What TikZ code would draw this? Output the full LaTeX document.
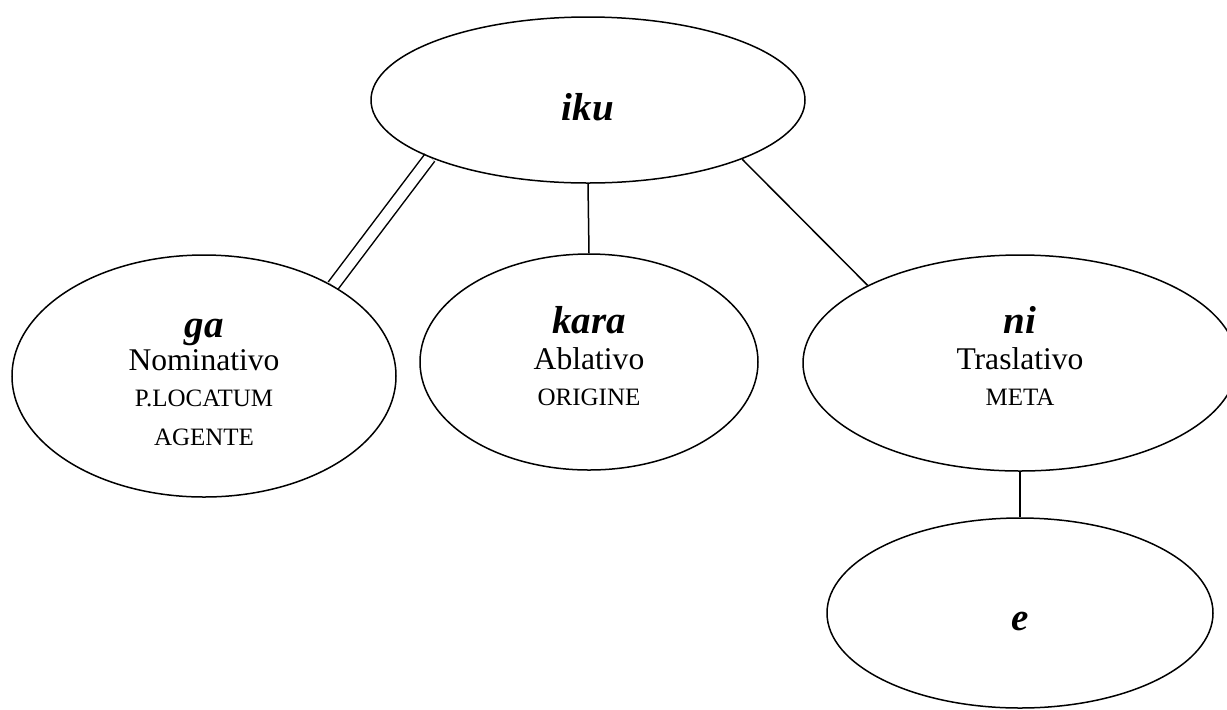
\documentclass[tikz,border=0pt]{standalone}
\usepackage{fontspec}
\setmainfont{Liberation Serif}
\usetikzlibrary{shapes.geometric, backgrounds}

\newcommand{\particella}[1]{{\fontsize{19.5}{19}\selectfont\bfseries\itshape #1}}
\newcommand{\ruolo}[1]{{\fontsize{12.5}{18}\selectfont #1}}

\begin{document}
\begin{tikzpicture}[x=0.5pt, y=-0.5pt,
		caso/.style={draw, ellipse, line width=0.75pt, inner sep=0pt, align=center,
			text depth=0pt, font=\fontsize{15.8}{18}\selectfont},
		legame/.style={line width=0.75pt}]
		\useasboundingbox (0,0) rectangle (1227,709);
		% verbo e particelle
		\node[caso, minimum width=217pt, minimum height=83pt, text height=20pt] (iku) at (588,100)
			{\particella{iku}};
		\node[caso, minimum width=192pt, minimum height=121pt, text height=69pt] (ga) at (204,376)
			{\particella{ga}\\[-1.5pt] Nominativo\\ \ruolo{P.LOCATUM}\\[1.5pt] \ruolo{AGENTE}};
		\node[caso, minimum width=169pt, minimum height=108pt, text height=43pt] (kara) at (589,362)
			{\particella{kara}\\ Ablativo\\ \ruolo{ORIGINE}};
		\node[caso, minimum width=217pt, minimum height=108pt, text height=42pt] (ni) at (1020,363)
			{\particella{ni}\\ Traslativo\\ \ruolo{META}};
		\node[caso, minimum width=193pt, minimum height=95pt, text height=17pt] (e) at (1020,613)
			{\particella{e}};
		% legami
		\begin{scope}[on background layer]
			\draw[legame, double, double distance=5.3pt] (iku.200) -- (ga.35);
			\draw[legame] (iku.south) -- (kara.north);
			\draw[legame] (iku.339) -- (ni.153);
			\draw[legame] (ni.south) -- (e.north);
		\end{scope}
\end{tikzpicture}
\end{document}
